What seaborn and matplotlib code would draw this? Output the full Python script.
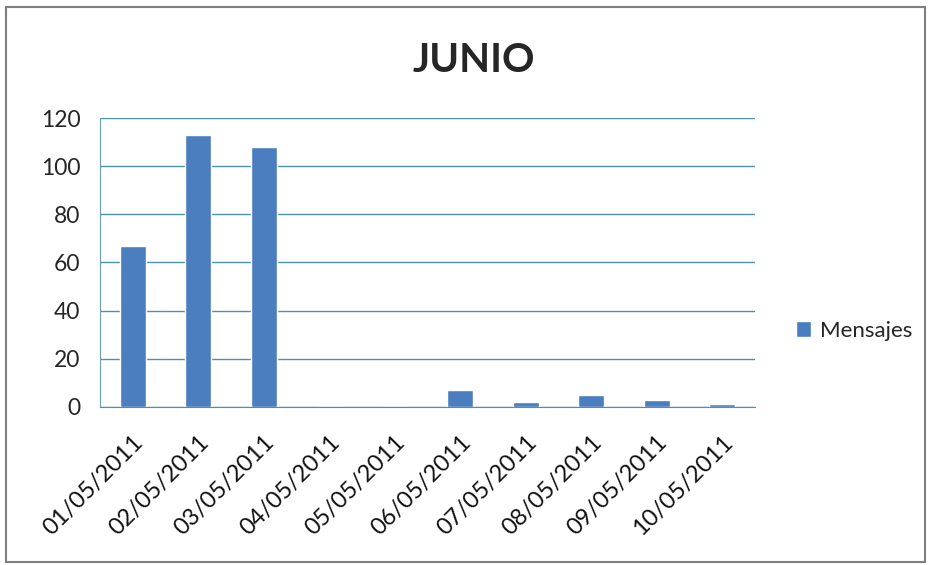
import numpy as np
import pandas as pd
import matplotlib
matplotlib.use("Agg")
import matplotlib.pyplot as plt
import seaborn as sns
from matplotlib.patches import Rectangle

fechas = ["01/05/2011", "02/05/2011", "03/05/2011", "04/05/2011", "05/05/2011",
          "06/05/2011", "07/05/2011", "08/05/2011", "09/05/2011", "10/05/2011"]
mensajes = [67, 113, 108, 0, 0, 7, 2, 5, 3, 1]

df = pd.DataFrame({"fecha": fechas, "mensajes": mensajes})

sns.set_style("white")
plt.rcParams['font.family'] = ['Lato', 'DejaVu Sans']

fig = plt.figure(figsize=(9.29, 5.65), dpi=100)
ax = fig.add_axes([0.1076, 0.280, 0.705, 0.511])

sns.barplot(data=df, x="fecha", y="mensajes", color="#4a7ebe", width=0.4,
            saturation=1, label="Mensajes", ax=ax)

ax.set_ylim(0, 120)
ax.set_yticks(range(0, 121, 20))
ax.set_xlim(-0.5, 9.5)
ax.yaxis.grid(True, color="#4b93a8", linewidth=1)
ax.set_axisbelow(True)
ax.set_xlabel("")
ax.set_ylabel("")

for s in ["top", "right"]:
    ax.spines[s].set_visible(False)
ax.spines["left"].set_color("#6a9fb8")
ax.spines["bottom"].set_color("#4b93a8")

# ticks between categories like Excel
ax.set_xticks(np.arange(10))
ax.set_xticks(np.arange(-0.5, 10, 1), minor=True)
ax.tick_params(axis="x", which="major", length=0, pad=18)
ax.tick_params(axis="x", which="minor", length=6, color="#4b93a8", direction="out")
ax.tick_params(axis="y", length=8, color="#4b93a8", direction="out", labelsize=16.5, pad=6)
ax.set_xticklabels(fechas, rotation=45, ha="right", rotation_mode="anchor", fontsize=17)
for t in ax.get_xticklabels():
    t.set_color("#111111")

fig.text(0.510, 0.893, "JUNIO", ha="center", va="center", fontsize=29, fontweight="bold")

ax.legend(loc="center left", bbox_to_anchor=(0.835, 0.415), bbox_transform=fig.transFigure,
          frameon=False, fontsize=16, handlelength=0.7, handleheight=0.7, handletextpad=0.4)

fig.patches.append(Rectangle((0.006, 0.005), 0.99, 0.982, transform=fig.transFigure,
                             fill=False, edgecolor="#7f7f7f", linewidth=1.5))

fig.savefig("out.png", dpi=100)
